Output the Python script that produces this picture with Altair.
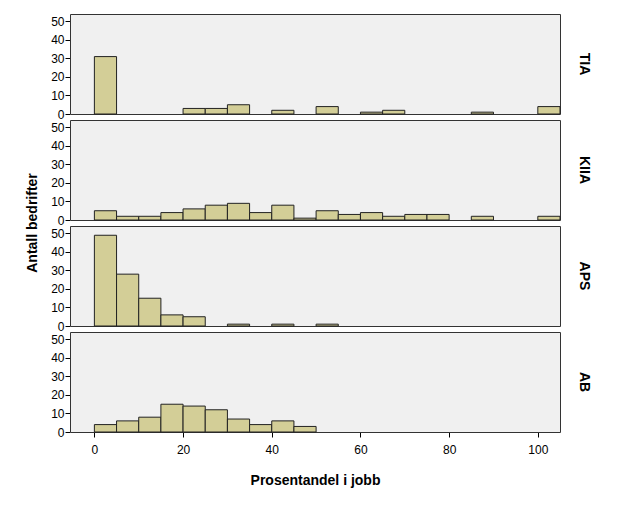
import altair as alt
import pandas as pd

groups = ["TIA", "KIIA", "APS", "AB"]
bin_width = 5
bin_starts = [0, 5, 10, 15, 20, 25, 30, 35, 40, 45, 50, 55, 60, 65, 70, 75, 80, 85, 90, 95, 100]

counts_tia = [31, 0, 0, 0, 3, 3, 5, 0, 2, 0, 4, 0, 1, 2, 0, 0, 0, 1, 0, 0, 4]
counts_kiia = [5, 2, 2, 4, 6, 8, 9, 4, 8, 1, 5, 3, 4, 2, 3, 3, 0, 2, 0, 0, 2]
counts_aps = [49, 28, 15, 6, 5, 0, 1, 0, 1, 0, 1, 0, 0, 0, 0, 0, 0, 0, 0, 0, 0]
counts_ab = [4, 6, 8, 15, 14, 12, 7, 4, 6, 3, 0, 0, 0, 0, 0, 0, 0, 0, 0, 0, 0]

x_ticks = [0, 20, 40, 60, 80, 100]
y_ticks = [0, 10, 20, 30, 40, 50]

rows = []
for g, counts in zip(groups, [counts_tia, counts_kiia, counts_aps, counts_ab]):
    for s, c in zip(bin_starts, counts):
        if c > 0:
            rows.append({"gruppe": g, "start": s, "end": s + bin_width, "antall": c})
df = pd.DataFrame(rows)

FONT = "Liberation Sans, Arial"

base = alt.Chart(df).mark_bar(
    color="#D3CE97", stroke="#222222", strokeWidth=1
).encode(
    x=alt.X("start:Q", scale=alt.Scale(domain=[-5.5, 105], nice=False, zero=False),
            axis=alt.Axis(values=x_ticks, title="Prosentandel i jobb", grid=False,
                          domain=False, tickSize=5, tickColor="#000000",
                          labelFont=FONT, labelFontSize=12, labelColor="#000000",
                          titleFont=FONT, titleFontSize=14, titleFontWeight="bold",
                          titleColor="#000000", titlePadding=18, labelPadding=7)),
    x2="end:Q",
    y=alt.Y("antall:Q", scale=alt.Scale(domain=[0, 54], nice=False),
            axis=alt.Axis(values=y_ticks, title=None, grid=False,
                          domain=False, tickSize=5, tickColor="#000000",
                          labelFont=FONT, labelFontSize=12, labelColor="#000000",
                          labelPadding=1)),
    y2=alt.datum(0),
).properties(width=490, height=100)

chart = base.facet(
    row=alt.Row("gruppe:N", sort=groups,
                header=alt.Header(title="Antall bedrifter", titleOrient="left",
                                  titleFont=FONT, titleFontSize=14, titleFontWeight="bold",
                                  titleColor="#000000", titlePadding=0,
                                  labelOrient="right", labelAngle=90,
                                  labelFont=FONT, labelFontSize=14, labelFontWeight="bold",
                                  labelColor="#000000", labelPadding=17)),
    spacing=6,
    bounds="flush",
).properties(
    padding={"left": 17, "top": 5, "right": 5, "bottom": 5}
).configure_view(
    fill="#F0F0F0", stroke="#333333", strokeWidth=1
)

chart.save("out.html", embed_options={"renderer": "svg", "actions": False})
